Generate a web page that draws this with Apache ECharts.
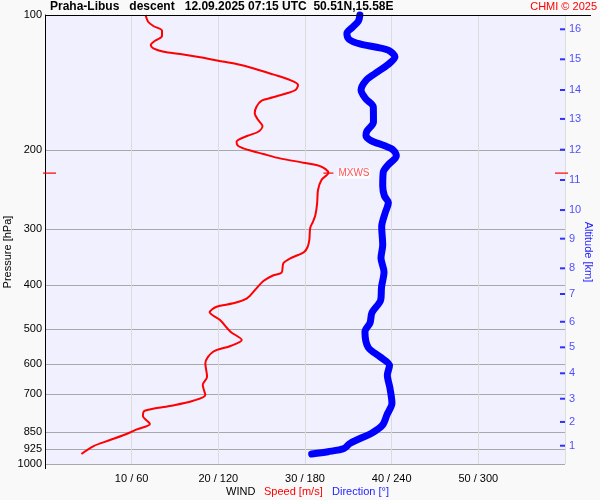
<!DOCTYPE html>
<html>
<head>
<meta charset="utf-8">
<script src="https://cdn.jsdelivr.net/npm/echarts@6/dist/echarts.min.js"></script>
<style>
html, body { margin: 0; padding: 0; background: #f9f9f9; }
#chart { width: 600px; height: 500px; }
</style>
</head>
<body>
<div id="chart"></div>
<script>
// pressure levels shown on the left axis
var pLevels = [100, 200, 300, 400, 500, 600, 700, 850, 925, 1000];

// wind speed profile [m/s] against pressure [hPa]
var speedP = [100, 103.5, 105.8, 108.4, 111.4, 114.1, 116.6, 118.6, 120.7, 122.1,
  124.2, 126.4, 128.6, 131.4, 135.6, 139.6, 143.2, 146.9, 149.4, 152.5,
  155.2, 160.1, 165.6, 171.4, 176.7, 182.0, 186.0, 191.5, 195.8, 199.9,
  204.0, 208.6, 213.3, 217.7, 224.5, 233.1, 245.4, 262.7, 278.9, 289.1,
  298.1, 317.0, 328.6, 337.2, 342.4, 348.2, 357.3, 374.9, 380.4, 391.3,
  406.2, 427.5, 438.6, 446.4, 459.4, 477.9, 507.4, 529.5, 546.0, 562.3,
  596.7, 639.1, 666.9, 702.1, 722.9, 742.8, 761.0, 781.9, 814.6, 837.1,
  857.5, 884.4, 912.0, 950.0];
var speedMs = [11.6, 11.9, 12.5, 13.5, 13.5, 12.7, 12.2, 12.5, 13.7, 15.6,
  17.9, 20.0, 22.1, 24.0, 26.3, 28.3, 29.2, 28.9, 27.9, 26.3,
  25.0, 24.4, 24.2, 24.6, 25.1, 24.6, 23.3, 22.1, 22.3, 23.5,
  25.2, 27.1, 29.8, 31.9, 32.7, 31.9, 31.5, 31.4, 31.2, 30.9,
  30.6, 30.5, 30.3, 29.9, 29.2, 28.3, 27.5, 27.3, 26.3, 25.2,
  24.4, 23.3, 21.7, 19.8, 19.0, 20.2, 21.4, 22.7, 21.4, 19.4,
  18.5, 18.7, 18.2, 18.5, 17.1, 14.4, 11.5, 11.3, 12.1, 10.6,
  9.4, 7.5, 5.6, 4.2];

// wind direction profile [deg] against pressure [hPa]
var dirP = [100, 103.1, 106.4, 109.8, 113.3, 116.0, 118.0, 120.0, 123.9, 128.9,
  135.0, 139.9, 146.9, 153.5, 160.3, 173.1, 181.3, 185.5, 190.4, 195.3,
  199.9, 206.1, 215.8, 223.7, 240.4, 253.0, 261.6, 276.5, 296.2, 325.3,
  347.7, 373.6, 403.4, 431.3, 459.8, 485.3, 507.4, 550.3, 576.9, 603.5,
  633.6, 677.3, 732.6, 775.9, 818.8, 853.1, 877.6, 899.5, 923.7, 938.9, 950.0];
var dirDeg = [218, 217, 213, 209, 210.5, 218, 229.6, 238.2, 242.3, 237.5,
  228.5, 222.2, 218.8, 221.9, 227.3, 227.4, 222.9, 222.2, 225.7, 234.7,
  241.1, 243.2, 237.5, 234.2, 233.8, 235, 237.7, 235.4, 233.1, 233.8,
  232.6, 234.7, 233, 232.4, 226.4, 225, 221.5, 223.8, 231.9, 238.5,
  237, 238.8, 240.2, 236.8, 233.7, 226.4, 218.1, 211.2, 207, 195.9, 184.6];

// altitude marks on the right side: km and the pressure where they sit
var altKm = [1, 2, 3, 4, 5, 6, 7, 8, 9, 10, 11, 12, 13, 14, 15, 16];
var altP = [910.5, 806, 715.5, 628, 549.7, 482.2, 418.2, 366.6, 314.9, 271.9,
  233.1, 199.5, 170.4, 146.9, 125.5, 107.6];

// max wind level
var mxwsSpeed = 32.7;
var mxwsP = 225;

var FONT = '"Liberation Sans", Arial, sans-serif';
var RED = '#ff0000';
var BLUE = '#0000ff';

var chart = echarts.init(document.getElementById('chart'));

var option = {
  backgroundColor: '#f9f9f9',
  animation: false,
  grid: {
    left: 45, top: 15, right: 35, bottom: 36,
    containLabel: false, outerBoundsMode: 'none',
    show: true, backgroundColor: '#f0f0fe', borderWidth: 0
  },
  xAxis: {
    type: 'value', min: 0, max: 60, interval: 10,
    axisLine: { show: false },
    axisTick: { show: false },
    axisLabel: {
      fontSize: 11, color: '#000', fontFamily: FONT, margin: 9,
      formatter: function (v) { return (v > 0 && v < 60) ? v + ' / ' + v * 6 : ''; }
    },
    splitLine: { show: true, lineStyle: { color: '#dcdcdc', width: 1 } }
  },
  yAxis: {
    type: 'log', logBase: 10, min: 100, max: 1000, inverse: true,
    axisLine: { show: true, lineStyle: { color: '#000', width: 1 } },
    axisTick: { show: false, customValues: pLevels },
    axisLabel: {
      customValues: pLevels, fontSize: 11, color: '#000', fontFamily: FONT, margin: 3,
      formatter: function (v) { return String(Math.round(v)); }
    },
    splitLine: { show: true, lineStyle: { color: '#a8a8a8', width: 1 } }
  },
  series: [
    {
      name: 'Speed', type: 'line', clip: false, smooth: 0.3, showSymbol: false, z: 3,
      lineStyle: { color: RED, width: 2 },
      data: speedMs.map(function (v, i) { return [v, speedP[i]]; })
    },
    {
      name: 'Direction', type: 'line', clip: false, smooth: 0.3, showSymbol: false, z: 4,
      lineStyle: { color: BLUE, width: 7, cap: 'round', join: 'round' },
      data: dirDeg.map(function (d, i) { return [d / 6, dirP[i]]; })
    },
    {
      // altitude ticks
      type: 'scatter', clip: false, z: 5,
      symbol: 'rect', symbolSize: [5, 2], symbolOffset: [-2.5, 0],
      itemStyle: { color: BLUE },
      label: {
        show: true, position: 'right', distance: 4, color: '#1e1eff',
        fontSize: 11, fontFamily: FONT,
        formatter: function (p) { return altKm[p.dataIndex]; }
      },
      data: altP.map(function (p) { return [60, p]; })
    },
    {
      // max wind marker
      type: 'scatter', clip: false, z: 6,
      symbol: 'rect', symbolSize: [10, 1.5],
      itemStyle: { color: RED },
      label: {
        show: true, position: 'right', distance: 4, color: '#ff2a2a',
        fontSize: 10, fontFamily: FONT, backgroundColor: '#ffffff', padding: [1, 1, 0, 1],
        formatter: 'MXWS'
      },
      data: [[mxwsSpeed, mxwsP]]
    },
    {
      // level marks on both edges
      type: 'scatter', clip: false, z: 6,
      symbol: 'rect',
      itemStyle: { color: RED },
      data: [
        { value: [0, mxwsP], symbolSize: [13, 1.5], symbolOffset: [4.5, 0] },
        { value: [60, mxwsP], symbolSize: [13, 1.5], symbolOffset: [-3.5, 0] }
      ]
    }
  ],
  graphic: [
    { type: 'line', z: 10, shape: { x1: 45, y1: 15.5, x2: 591, y2: 15.5 }, style: { stroke: '#000', lineWidth: 1 } },
    { type: 'line', z: 10, shape: { x1: 45.5, y1: 464, x2: 45.5, y2: 469 }, style: { stroke: '#000', lineWidth: 1 } },
    { type: 'text', z: 10, x: 50, y: 7, style: {
      text: 'Praha-Libus   descent   12.09.2025 07:15 UTC  50.51N,15.58E',
      font: 'bold 12px ' + FONT, fill: '#000', verticalAlign: 'middle' } },
    { type: 'text', z: 10, x: 597, y: 7, style: {
      text: 'CHMI © 2025', font: '11px ' + FONT, fill: RED, align: 'right', verticalAlign: 'middle' } },
    { type: 'text', z: 10, x: 8, y: 252, rotation: Math.PI / 2, style: {
      text: 'Pressure [hPa]', font: '11px ' + FONT, fill: '#000', align: 'center', verticalAlign: 'middle' } },
    { type: 'text', z: 10, x: 588, y: 252, rotation: -Math.PI / 2, style: {
      text: 'Altitude [km]', font: '11px ' + FONT, fill: '#1e1eff', align: 'center', verticalAlign: 'middle' } },
    { type: 'text', z: 10, x: 226, y: 492, style: {
      text: 'WIND', font: '11px ' + FONT, fill: '#000', verticalAlign: 'middle' } },
    { type: 'text', z: 10, x: 264, y: 492, style: {
      text: 'Speed [m/s]', font: '11px ' + FONT, fill: RED, verticalAlign: 'middle' } },
    { type: 'text', z: 10, x: 332, y: 492, style: {
      text: 'Direction [°]', font: '11px ' + FONT, fill: '#1e1eff', verticalAlign: 'middle' } }
  ]
};

chart.setOption(option);
</script>
</body>
</html>
